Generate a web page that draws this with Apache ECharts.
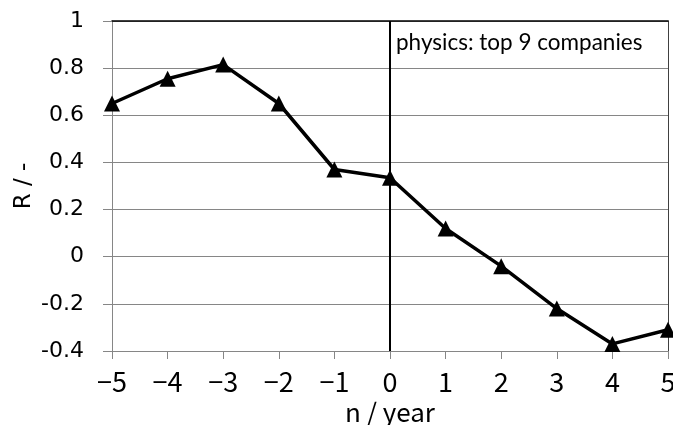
<!DOCTYPE html>
<html>
<head>
<meta charset="utf-8">
<script src="https://cdn.jsdelivr.net/npm/echarts@6/dist/echarts.min.js"></script>
<style>
html,body{margin:0;padding:0;background:#fff;}
#chart{width:673px;height:425px;}
</style>
</head>
<body>
<div id="chart"></div>
<script>
// Data
var years = [-5, -4, -3, -2, -1, 0, 1, 2, 3, 4, 5];
var rValues = [0.65, 0.755, 0.815, 0.65, 0.37, 0.335, 0.12, -0.04, -0.22, -0.37, -0.31];
var xTicks = {min: -5, max: 5, step: 1};
var yTicks = {min: -0.4, max: 1, step: 0.2};
var xAxisTitle = 'n / year';
var yAxisTitle = 'R / -';
var annotation = 'physics: top 9 companies';
var refLineX = 0;

var chart = echarts.init(document.getElementById('chart'), null, {renderer: 'canvas'});
var seriesData = years.map(function (x, i) { return [x, rValues[i]]; });

var option = {
  animation: false,
  backgroundColor: '#ffffff',
  grid: {left: 112, right: 5, top: 21, bottom: 74, containLabel: false, outerBoundsMode: 'none'},
  xAxis: [{
    type: 'value',
    min: xTicks.min, max: xTicks.max, interval: xTicks.step,
    name: xAxisTitle,
    nameLocation: 'middle',
    nameGap: 48,
    nameMoveOverlap: false,
    nameTextStyle: {fontFamily: 'Noto Sans CJK JP', fontSize: 26, color: '#000'},
    axisLine: {show: true, onZero: false, lineStyle: {color: '#868686', width: 1}},
    axisTick: {show: true, length: 8, lineStyle: {color: '#868686'}},
    axisLabel: {
      margin: 17,
      fontFamily: 'Noto Sans CJK JP', fontSize: 27, color: '#000',
      formatter: function (v) { return String(v).replace('-', '\u2212'); }
    },
    splitLine: {show: false}
  }, {
    type: 'value', position: 'top',
    min: xTicks.min, max: xTicks.max,
    axisLine: {show: true, onZero: false, lineStyle: {color: '#000', width: 1.5}},
    axisTick: {show: false}, axisLabel: {show: false}, splitLine: {show: false}
  }],
  yAxis: [{
    type: 'value',
    min: yTicks.min, max: yTicks.max, interval: yTicks.step,
    name: yAxisTitle,
    nameLocation: 'middle',
    nameGap: 76,
    nameRotate: 90,
    nameMoveOverlap: false,
    nameTextStyle: {fontFamily: 'DejaVu Sans', fontSize: 23, color: '#000'},
    axisLine: {show: true, onZero: false, lineStyle: {color: '#868686', width: 1}},
    axisTick: {show: true, length: 9, lineStyle: {color: '#868686'}},
    axisLabel: {
      margin: 28,
      fontFamily: 'DejaVu Sans', fontSize: 22, color: '#000',
      formatter: function (v) { return String(Math.round(v * 10) / 10); }
    },
    splitLine: {show: true, lineStyle: {color: '#868686', width: 1}}
  }, {
    type: 'value', position: 'right',
    min: yTicks.min, max: yTicks.max,
    axisLine: {show: true, onZero: false, lineStyle: {color: '#404040', width: 1}},
    axisTick: {show: false}, axisLabel: {show: false}, splitLine: {show: false}
  }],
  series: [{
    type: 'line',
    data: seriesData,
    xAxisIndex: 0, yAxisIndex: 0,
    symbol: 'triangle',
    symbolSize: 16,
    lineStyle: {color: '#000', width: 3.5},
    itemStyle: {color: '#000'},
    z: 5,
    markLine: {
      silent: true,
      symbol: 'none',
      label: {show: false},
      lineStyle: {color: '#000', width: 2, type: 'solid'},
      data: [{xAxis: refLineX}]
    }
  }],
  graphic: [{
    type: 'text',
    left: 396, top: 31,
    style: {text: annotation, font: '22.5px Lato', fill: '#000'}
  }]
};
chart.setOption(option);
</script>
</body>
</html>
